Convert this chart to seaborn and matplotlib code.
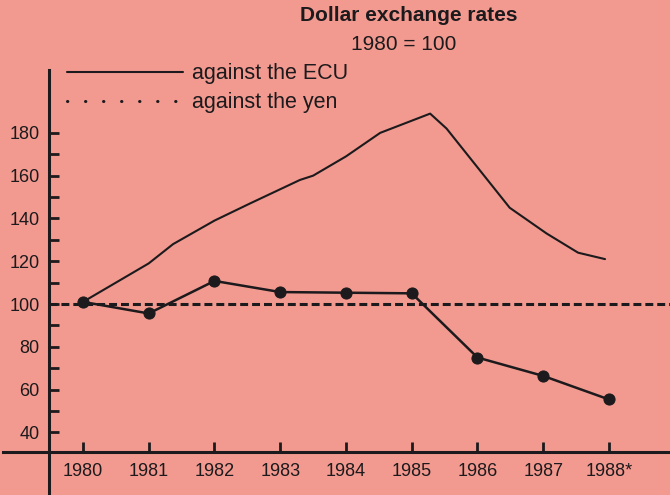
import matplotlib
matplotlib.use("Agg")
import matplotlib.pyplot as plt
from matplotlib.lines import Line2D
import seaborn as sns

# dollar against the ECU (fractional years)
ecu_x = [1980.0, 1981.0, 1981.37, 1982.0, 1982.54, 1983.3, 1983.5, 1984.0,
         1984.52, 1985.28, 1985.53, 1986.49, 1987.05, 1987.53, 1987.94]
ecu_y = [101, 119, 128, 139, 147, 158, 160, 169,
         180, 189, 182, 145, 133, 124, 121]

# dollar against the yen (yearly points)
yen_years = [1980, 1981, 1982, 1983, 1984, 1985, 1986, 1987, 1988]
yen_values = [101, 95.6, 110.8, 105.6, 105.3, 105.0, 75.0, 66.4, 55.4]

year_labels = ["1980", "1981", "1982", "1983", "1984", "1985", "1986", "1987", "1988*"]
y_major = [40, 60, 80, 100, 120, 140, 160, 180]
y_minor = [50, 70, 90, 110, 130, 150, 170]
base_value = 100

bg = "#F29A90"
ink = "#1c1a1c"

sns.set_style("white", {"axes.facecolor": bg, "figure.facecolor": bg})
plt.rcParams["font.family"] = ["Liberation Sans", "DejaVu Sans"]
narrow = ["Liberation Sans Narrow", "Liberation Sans", "DejaVu Sans"]

fig = plt.figure(figsize=(6.7, 4.95), dpi=100)
ax = fig.add_axes([0, 0, 1, 1])
ax.set_facecolor(bg)

x_lo, x_hi = 1978.738, 1988.928
y_lo, y_hi = 10.75, 242.1
ax.set_xlim(x_lo, x_hi)
ax.set_ylim(y_lo, y_hi)

# reference line 1980 = 100
ax.axhline(base_value, xmin=(1979.48 - x_lo) / (x_hi - x_lo), xmax=1,
           color=ink, lw=2.2, ls=(0, (2.6, 1.3)))

sns.lineplot(x=ecu_x, y=ecu_y, ax=ax, color=ink, lw=1.5, sort=False)
sns.lineplot(x=yen_years, y=yen_values, ax=ax, color=ink, lw=1.8,
             marker="o", markersize=8, markeredgecolor=ink)

for s in ["top", "right"]:
    ax.spines[s].set_visible(False)
ax.spines["left"].set_position(("data", 1979.48))
ax.spines["left"].set_bounds(y_lo, 209.3)
ax.spines["bottom"].set_position(("data", 30.8))
ax.spines["bottom"].set_bounds(1978.78, x_hi)
for s in ["left", "bottom"]:
    ax.spines[s].set_linewidth(2.2)
    ax.spines[s].set_color(ink)

ax.set_yticks(y_major)
ax.set_yticks(y_minor, minor=True)
ax.set_xticks(yen_years)
ax.set_xticklabels(year_labels)
ax.tick_params(axis="y", which="both", left=True, direction="in", length=7,
               width=2, color=ink, labelcolor=ink, labelsize=13, pad=6.5)
ax.tick_params(axis="x", bottom=True, direction="in", length=7, width=2,
               color=ink, labelcolor=ink, labelsize=13, pad=8)
for lab in ax.get_xticklabels() + ax.get_yticklabels():
    lab.set_family(narrow)

handles = [Line2D([], [], color=ink, lw=1.5),
           Line2D([], [], color=ink, lw=2.2, ls=(0, (0.1, 5.8)),
                  dash_capstyle="round")]
ax.legend(handles, ["against the ECU", "against the yen"], frameon=False,
          loc="upper left", bbox_to_anchor=(0.1, 0.872), fontsize=15.5,
          handlelength=5.4, handletextpad=0.42, labelspacing=0.37,
          labelcolor=ink, borderaxespad=0, borderpad=0)

fig.text(409 / 670, 1 - 15.5 / 495, "Dollar exchange rates", ha="center",
         va="center", fontsize=15, fontweight="bold", color=ink)
fig.text(404 / 670, 1 - 45 / 495, "1980 = 100", ha="center", va="center",
         fontsize=15, color=ink)

fig.savefig("out.png", dpi=100, facecolor=bg)
